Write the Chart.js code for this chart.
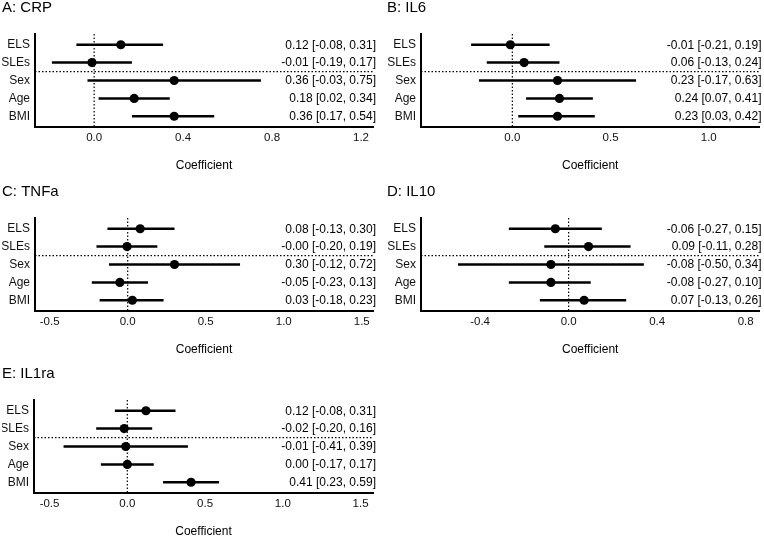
<!DOCTYPE html>
<html>
<head>
<meta charset="utf-8">
<script src="https://cdn.jsdelivr.net/npm/chart.js@4.4.1/dist/chart.umd.min.js"></script>
<style>
  html, body { margin: 0; padding: 0; background: #ffffff; }
  #wrap { position: relative; width: 764px; height: 540px; background: #ffffff; overflow: hidden; }
  #wrap canvas { position: absolute; }
</style>
</head>
<body>
<div id="wrap">
  <canvas id="cA" width="382" height="174" style="left:0px;top:0px;"></canvas>
  <canvas id="cB" width="382" height="174" style="left:382px;top:0px;"></canvas>
  <canvas id="cC" width="382" height="174" style="left:0px;top:184px;"></canvas>
  <canvas id="cD" width="382" height="174" style="left:382px;top:184px;"></canvas>
  <canvas id="cE" width="382" height="174" style="left:0px;top:366px;"></canvas>
</div>
<script>
// ---------- data ----------
const rowLabels = ['ELS', 'SLEs', 'Sex', 'Age', 'BMI'];

const crpEst = [0.12, -0.01, 0.36, 0.18, 0.36];
const crpLo  = [-0.08, -0.19, -0.03, 0.02, 0.17];
const crpHi  = [0.31, 0.17, 0.75, 0.34, 0.54];
const crpTicks = [0.0, 0.4, 0.8, 1.2];

const il6Est = [-0.01, 0.06, 0.23, 0.24, 0.23];
const il6Lo  = [-0.21, -0.13, -0.17, 0.07, 0.03];
const il6Hi  = [0.19, 0.24, 0.63, 0.41, 0.42];
const il6Ticks = [0.0, 0.5, 1.0];

const tnfaEst = [0.08, -0.004, 0.30, -0.05, 0.03];
const tnfaLo  = [-0.13, -0.20, -0.12, -0.23, -0.18];
const tnfaHi  = [0.30, 0.19, 0.72, 0.13, 0.23];
const tnfaTicks = [-0.5, 0.0, 0.5, 1.0, 1.5];

const il10Est = [-0.06, 0.09, -0.08, -0.08, 0.07];
const il10Lo  = [-0.27, -0.11, -0.50, -0.27, -0.13];
const il10Hi  = [0.15, 0.28, 0.34, 0.10, 0.26];
const il10Ticks = [-0.4, 0.0, 0.4, 0.8];

const il1raEst = [0.12, -0.02, -0.01, 0.00, 0.41];
const il1raLo  = [-0.08, -0.20, -0.41, -0.17, 0.23];
const il1raHi  = [0.31, 0.16, 0.39, 0.17, 0.59];
const il1raTicks = [-0.5, 0.0, 0.5, 1.0, 1.5];

// ---------- layout per panel ----------
const FONT = '"Liberation Sans", Arial, Helvetica, sans-serif';
const panels = [
  { id: 'cA', title: 'A: CRP',   est: crpEst,   lo: crpLo,   hi: crpHi,   ticks: crpTicks,   xmin: -0.266, xmax: 1.254, padL: 2, yW: 33, padR: 9, textRight: 376 },
  { id: 'cB', title: 'B: IL6',   est: il6Est,   lo: il6Lo,   hi: il6Hi,   ticks: il6Ticks,   xmin: -0.465, xmax: 1.258, padL: 5, yW: 34, padR: 2, textRight: 379.5 },
  { id: 'cC', title: 'C: TNFa',  est: tnfaEst,  lo: tnfaLo,  hi: tnfaHi,  ticks: tnfaTicks,  xmin: -0.594, xmax: 1.572, padL: 2, yW: 33, padR: 9, textRight: 376 },
  { id: 'cD', title: 'D: IL10',  est: il10Est,  lo: il10Lo,  hi: il10Hi,  ticks: il10Ticks,  xmin: -0.667, xmax: 0.862, padL: 5, yW: 34, padR: 2, textRight: 379.5 },
  { id: 'cE', title: 'E: IL1ra', est: il1raEst, lo: il1raLo, hi: il1raHi, ticks: il1raTicks, xmin: -0.600, xmax: 1.580, padL: 2, yW: 32, padR: 9, textRight: 376 }
];

const fmt = v => v.toFixed(2);

const ciTextPlugin = {
  id: 'ciText',
  afterDatasetsDraw(chart, args, opts) {
    const { ctx } = chart;
    const ys = chart.scales.y;
    ctx.save();
    ctx.font = '12px ' + FONT;
    ctx.fillStyle = '#000000';
    ctx.textAlign = 'right';
    ctx.textBaseline = 'middle';
    opts.est.forEach((e, i) => {
      const txt = fmt(e) + ' [' + fmt(opts.lo[i]) + ', ' + fmt(opts.hi[i]) + ']';
      ctx.fillText(txt, opts.textRight, ys.getPixelForValue(i + 1) + 0.5);
    });
    ctx.restore();
  }
};

panels.forEach(p => {
  const datasets = [];
  // zero reference line
  datasets.push({
    type: 'line',
    data: [{ x: 0, y: 0.4 }, { x: 0, y: 5.6 }],
    borderColor: '#000000', borderWidth: 1.2, borderDash: [1.5, 2],
    pointRadius: 0, fill: false
  });
  // separator between exposures and covariates
  datasets.push({
    type: 'line',
    data: [{ x: p.xmin, y: 2.5 }, { x: p.xmax, y: 2.5 }],
    borderColor: '#000000', borderWidth: 1.2, borderDash: [1.5, 2],
    pointRadius: 0, fill: false
  });
  // confidence intervals
  p.est.forEach((e, i) => {
    datasets.push({
      type: 'line',
      data: [{ x: p.lo[i], y: i + 1 }, { x: p.hi[i], y: i + 1 }],
      borderColor: '#000000', borderWidth: 2.5,
      pointRadius: 0, fill: false
    });
  });
  // point estimates
  datasets.push({
    type: 'scatter',
    data: p.est.map((e, i) => ({ x: e, y: i + 1 })),
    backgroundColor: '#000000', borderColor: '#000000', borderWidth: 0,
    pointRadius: 4.6, showLine: false
  });

  new Chart(document.getElementById(p.id), {
    type: 'scatter',
    data: { datasets },
    options: {
      responsive: false,
      animation: false,
      devicePixelRatio: 1,
      layout: { padding: { left: p.padL, right: p.padR, top: 0, bottom: 0 } },
      plugins: {
        legend: { display: false },
        tooltip: { enabled: false },
        title: {
          display: true, text: p.title, align: 'start', color: '#000000',
          font: { family: FONT, size: 15, weight: 'normal', lineHeight: 1 },
          padding: { top: 0, bottom: 19 }
        },
        ciText: { est: p.est, lo: p.lo, hi: p.hi, textRight: p.textRight }
      },
      scales: {
        x: {
          type: 'linear', position: 'bottom',
          min: p.xmin, max: p.xmax,
          afterBuildTicks: s => { s.ticks = p.ticks.map(v => ({ value: v })); },
          afterFit: s => { s.height = 47; },
          grid: { display: false, drawTicks: false },
          border: { display: true, color: '#000000', width: 2 },
          ticks: {
            padding: 4, color: '#111111', maxRotation: 0, autoSkip: false,
            font: { family: FONT, size: 11.5 },
            callback: v => Number(v).toFixed(1)
          },
          title: {
            display: true, text: 'Coefficient', color: '#000000',
            font: { family: FONT, size: 12 },
            padding: { top: 0, bottom: 1 }
          }
        },
        y: {
          type: 'linear', position: 'left',
          min: 0.4, max: 5.6, reverse: true,
          afterBuildTicks: s => { s.ticks = rowLabels.map((l, i) => ({ value: i + 1 })); },
          afterFit: s => { s.width = p.yW; },
          grid: { display: false, drawTicks: false },
          border: { display: true, color: '#000000', width: 2 },
          ticks: {
            padding: 5, color: '#111111', autoSkip: false,
            font: { family: FONT, size: 12 },
            callback: v => rowLabels[Math.round(v) - 1]
          }
        }
      }
    },
    plugins: [ciTextPlugin]
  });
});
</script>
</body>
</html>
